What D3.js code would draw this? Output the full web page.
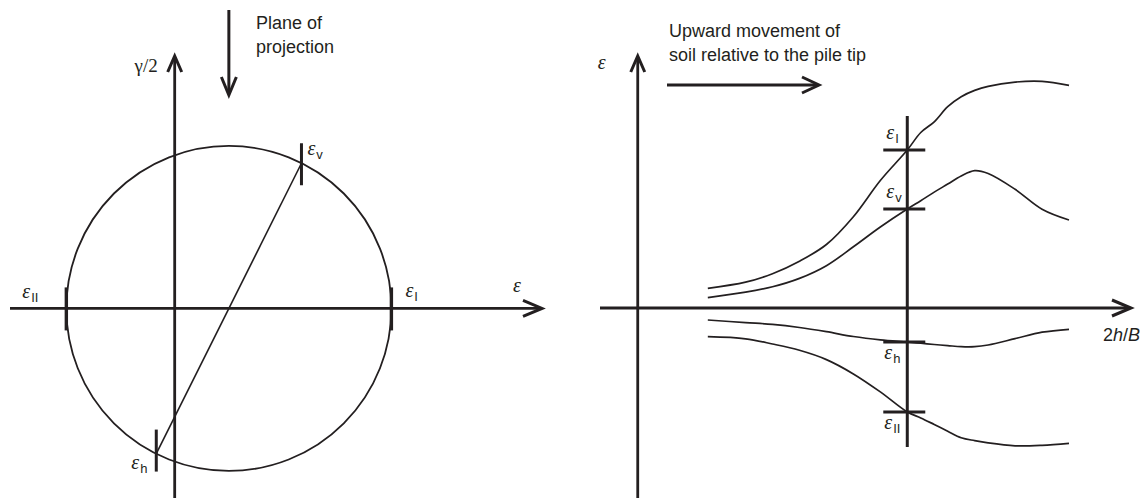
<!DOCTYPE html>
<html>
<head>
<meta charset="utf-8">
<script src="https://cdn.jsdelivr.net/npm/d3@7"></script>
<style>
  body { margin: 0; background: #fff; }
  svg { display: block; }
</style>
</head>
<body>
<svg id="chart" width="1144" height="500"></svg>
<script>
// ---- Mohr's circle of strain (left panel) ----
const principalStrains = [2.0, -1.0];        // ε_I, ε_II
const planeNames = ["v", "h"];
const planeStrains = [1.17, -0.17];          // normal strain on the v and h planes
const planeHalfShear = [1.34, -1.34];        // γ/2 on the same planes
const mohrEpsExtent = [-1.52, 3.39];
const mohrGammaExtent = [-1.75, 2.33];

// ---- Strain development around the pile tip (right panel) ----
const hOverB   = [0.26, 0.4, 0.5, 0.6, 0.7, 0.8, 0.9, 1.0, 1.05, 1.1, 1.15, 1.2, 1.25, 1.3, 1.4, 1.5, 1.6];
const strainI  = [0.197, 0.258, 0.343, 0.468, 0.635, 0.913, 1.275, 1.58, 1.755, 1.862, 2.013, 2.113, 2.176, 2.217, 2.259, 2.266, 2.227];
const strainV  = [0.103, 0.158, 0.212, 0.296, 0.423, 0.612, 0.81, 0.99, 1.073, 1.159, 1.239, 1.32, 1.373, 1.345, 1.187, 0.988, 0.88];
const strainH  = [-0.12, -0.146, -0.164, -0.195, -0.237, -0.285, -0.318, -0.34, -0.352, -0.365, -0.376, -0.387, -0.387, -0.37, -0.307, -0.242, -0.213];
const strainII = [-0.287, -0.308, -0.36, -0.423, -0.516, -0.659, -0.839, -1.04, -1.099, -1.165, -1.232, -1.297, -1.326, -1.349, -1.378, -1.373, -1.353];
const seriesNames = ["I", "v", "h", "II"];
const hbAxisExtent = [-0.14, 1.83];
const strainAxisExtent = [-1.9, 2.52];
const sectionAt = 1.0;
const sectionSpan = [-1.39, 1.92];

const INK = "#231f20";
const SERIF = "'Liberation Serif', 'Times New Roman', serif";
const SANS = "'Liberation Sans', Arial, Helvetica, sans-serif";

const svg = d3.select("#chart");

// open chevron arrow head; dir is a unit vector pointing where the arrow points
function arrowHead(g, tip, dir, len, half) {
  const px = -dir[1], py = dir[0];
  const bx = tip[0] - dir[0] * len, by = tip[1] - dir[1] * len;
  g.append("path")
    .attr("d", `M${bx + px * half},${by + py * half}L${tip[0]},${tip[1]}L${bx - px * half},${by - py * half}`)
    .attr("fill", "none").attr("stroke", INK).attr("stroke-width", 3)
    .attr("stroke-linejoin", "miter");
}

function arrow(g, from, to, len, half, width) {
  const dx = to[0] - from[0], dy = to[1] - from[1];
  const L = Math.hypot(dx, dy);
  const dir = [dx / L, dy / L];
  g.append("line")
    .attr("x1", from[0]).attr("y1", from[1])
    .attr("x2", to[0] - dir[0] * 1.5).attr("y2", to[1] - dir[1] * 1.5)
    .attr("stroke", INK).attr("stroke-width", width || 2.8);
  arrowHead(g, to, dir, len, half);
}

// ε with an upright sans subscript
function epsLabel(g, x, y, sub) {
  const t = g.append("text").attr("x", x).attr("y", y).attr("fill", INK);
  t.append("tspan").text("ε")
    .attr("font-family", SERIF).attr("font-style", "italic").attr("font-size", 20);
  if (sub) {
    t.append("tspan").text(sub).attr("dx", 1).attr("dy", 4)
      .attr("font-family", SANS).attr("font-size", 13);
  }
  return t;
}

function plainText(g, x, y, str, size) {
  return g.append("text").attr("x", x).attr("y", y).attr("fill", INK)
    .attr("font-family", SANS).attr("font-size", size || 18).text(str);
}

// ================= Left: Mohr's circle =================
const left = svg.append("g");
const xL = d3.scaleLinear().domain(mohrEpsExtent).range([10, 542]);
const yL = d3.scaleLinear().domain(mohrGammaExtent).range([498, 56]);

const centre = (principalStrains[0] + principalStrains[1]) / 2;
const radius = (principalStrains[0] - principalStrains[1]) / 2;

left.append("circle")
  .attr("cx", xL(centre)).attr("cy", yL(0))
  .attr("r", xL(centre + radius) - xL(centre))
  .attr("fill", "none").attr("stroke", INK).attr("stroke-width", 1.8);

// diameter joining the v and h planes
left.append("line")
  .attr("x1", xL(planeStrains[0])).attr("y1", yL(planeHalfShear[0]))
  .attr("x2", xL(planeStrains[1])).attr("y2", yL(planeHalfShear[1]))
  .attr("stroke", INK).attr("stroke-width", 1.6);

// axes
arrow(left, [xL(mohrEpsExtent[0]), yL(0)], [xL(mohrEpsExtent[1]), yL(0)], 19, 8);
arrow(left, [xL(0), yL(mohrGammaExtent[0])], [xL(0), yL(mohrGammaExtent[1])], 16, 7);

// principal strain marks on the ε axis
principalStrains.forEach(e => {
  left.append("line")
    .attr("x1", xL(e)).attr("x2", xL(e))
    .attr("y1", yL(0) - 21).attr("y2", yL(0) + 22)
    .attr("stroke", INK).attr("stroke-width", 3.4);
});

// plane marks on the circle
planeStrains.forEach((e, i) => {
  const cy = yL(planeHalfShear[i]);
  const up = i === 0 ? 20 : 24, down = i === 0 ? 22 : 18;
  left.append("line")
    .attr("x1", xL(e)).attr("x2", xL(e))
    .attr("y1", cy - up).attr("y2", cy + down)
    .attr("stroke", INK).attr("stroke-width", 3);
});

epsLabel(left, xL(principalStrains[0]) + 14, yL(0) - 11, "I");
epsLabel(left, xL(principalStrains[1]) - 44, yL(0) - 10, "II");
epsLabel(left, xL(planeStrains[0]) + 6, yL(planeHalfShear[0]) - 8, planeNames[0]);
epsLabel(left, xL(planeStrains[1]) - 25, yL(planeHalfShear[1]) + 15, planeNames[1]);
epsLabel(left, xL(mohrEpsExtent[1]) - 29, yL(0) - 16, "");

left.append("text")
  .attr("x", xL(0) - 17).attr("y", 72).attr("text-anchor", "end")
  .attr("fill", INK).attr("font-family", SERIF).attr("font-size", 19)
  .text("γ/2");

// plane of projection
arrow(left, [xL(centre), 10], [xL(centre), 95], 18, 7.5, 3);
plainText(left, 256, 29, "Plane of");
plainText(left, 256, 53, "projection");

// ================= Right: strain curves =================
const right = svg.append("g");
const xR = d3.scaleLinear().domain(hbAxisExtent).range([600, 1131]);
const yR = d3.scaleLinear().domain(strainAxisExtent).range([498, 56]);

const series = [strainI, strainV, strainH, strainII];
const line = d3.line()
  .x(d => xR(d[0])).y(d => yR(d[1]))
  .curve(d3.curveCatmullRom.alpha(0.5));

series.forEach(vals => {
  right.append("path")
    .attr("d", line(hOverB.map((h, i) => [h, vals[i]])))
    .attr("fill", "none").attr("stroke", INK).attr("stroke-width", 1.7);
});

// axes
arrow(right, [xR(hbAxisExtent[0]), yR(0)], [xR(hbAxisExtent[1]), yR(0)], 19, 8);
arrow(right, [xR(0), yR(strainAxisExtent[0])], [xR(0), yR(strainAxisExtent[1])], 16, 7);

// section through the pile tip
right.append("line")
  .attr("x1", xR(sectionAt)).attr("x2", xR(sectionAt))
  .attr("y1", yR(sectionSpan[0])).attr("y2", yR(sectionSpan[1]))
  .attr("stroke", INK).attr("stroke-width", 3);

const si = hOverB.indexOf(sectionAt);
series.forEach((vals, k) => {
  const y = yR(vals[si]);
  right.append("line")
    .attr("x1", xR(sectionAt) - 24).attr("x2", xR(sectionAt) + 18)
    .attr("y1", y).attr("y2", y)
    .attr("stroke", INK).attr("stroke-width", 3);
  const above = vals[si] > 0;
  epsLabel(right, xR(sectionAt) - (above ? 21 : 23), y + (above ? -11 : 17), seriesNames[k]);
});

epsLabel(right, xR(0) - 40, 69, "");

const xl = right.append("text").attr("x", 1103).attr("y", 341)
  .attr("fill", INK).attr("font-family", SANS).attr("font-size", 18);
xl.append("tspan").text("2");
xl.append("tspan").text("h").attr("font-style", "italic");
xl.append("tspan").text("/");
xl.append("tspan").text("B").attr("font-style", "italic");

// relative movement annotation
arrow(right, [667, 85], [819, 85], 17, 8, 3);
plainText(right, 669, 37, "Upward movement of");
plainText(right, 669, 61, "soil relative to the pile tip");
</script>
</body>
</html>
